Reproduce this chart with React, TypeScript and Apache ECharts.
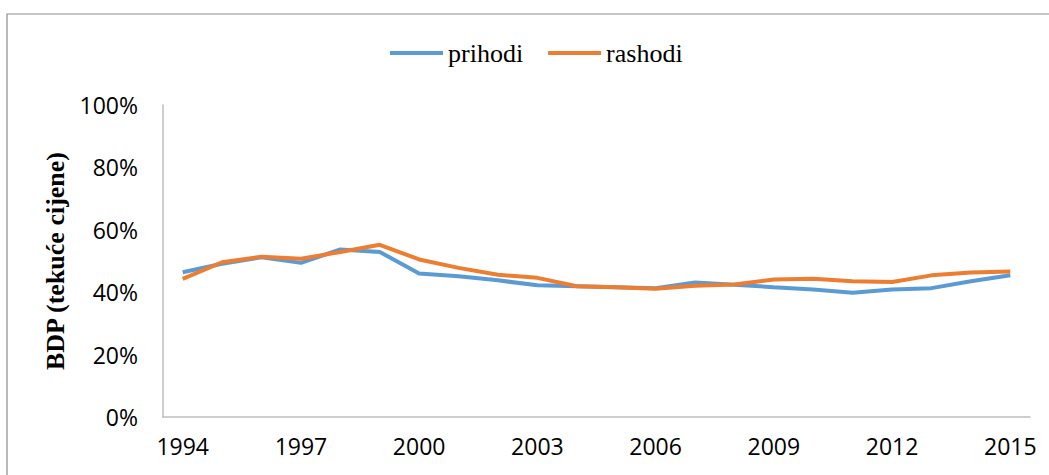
import React, { useEffect, useRef } from "react";
import * as echarts from "echarts";

const years = ["1994","1995","1996","1997","1998","1999","2000","2001","2002","2003","2004","2005","2006","2007","2008","2009","2010","2011","2012","2013","2014","2015"];
const prihodi = [46.4, 49.1, 51.2, 49.4, 53.7, 52.9, 46.0, 45.1, 43.8, 42.2, 41.9, 41.6, 41.3, 43.1, 42.4, 41.6, 40.9, 39.8, 40.9, 41.3, 43.5, 45.4];
const rashodi = [44.3, 49.6, 51.4, 50.7, 52.9, 55.2, 50.5, 47.8, 45.6, 44.6, 41.9, 41.6, 41.1, 42.1, 42.5, 44.1, 44.3, 43.5, 43.3, 45.4, 46.3, 46.6];
const yTicks = [0, 20, 40, 60, 80, 100];

export default function App() {
  const ref = useRef<HTMLDivElement>(null);
  useEffect(() => {
    if (!ref.current) return;
    const chart = echarts.init(ref.current, null, { renderer: "svg" });
    const labelFont = "'Open Sans', 'Liberation Sans', sans-serif";
    chart.setOption({
      animation: false,
      backgroundColor: "#ffffff",
      graphic: [
        {
          type: "rect",
          shape: { x: 7, y: 14, width: 1200, height: 600 },
          style: { fill: "none", stroke: "#8c8c8c", lineWidth: 1.2 },
          silent: true,
        },
      ],
      legend: {
        left: 385,
        top: 35,
        icon: "rect",
        itemWidth: 53,
        itemHeight: 4,
        itemGap: 25,
        textStyle: { fontFamily: "'Liberation Serif', serif", fontSize: 26, color: "#000" },
        data: ["prihodi", "rashodi"],
      },
      grid: { left: 163, right: 19, top: 105, bottom: 58 },
      xAxis: {
        type: "category",
        data: years,
        boundaryGap: true,
        axisLine: { lineStyle: { color: "#bfbfbf", width: 1.5 } },
        axisTick: { show: false },
        axisLabel: {
          interval: 2,
          margin: 17,
          fontFamily: labelFont,
          fontSize: 23,
          color: "#000",
        },
      },
      yAxis: {
        type: "value",
        min: 0,
        max: 100,
        interval: 20,
        name: "BDP (tekuće cijene)",
        nameLocation: "middle",
        nameGap: 92,
        nameTextStyle: {
          fontFamily: "'Liberation Serif', serif",
          fontWeight: "bold",
          fontSize: 26,
          color: "#000",
        },
        axisLine: { show: true, lineStyle: { color: "#bfbfbf", width: 1.5 } },
        axisTick: { show: false },
        splitLine: { show: false },
        axisLabel: {
          margin: 25,
          fontFamily: labelFont,
          fontSize: 23,
          color: "#000",
          formatter: (v: number) => (yTicks.includes(v) ? v + "%" : ""),
        },
      },
      series: [
        {
          name: "prihodi",
          type: "line",
          data: prihodi,
          showSymbol: false,
          symbol: "none",
          lineStyle: { color: "#5B9BD5", width: 4 },
          itemStyle: { color: "#5B9BD5" },
        },
        {
          name: "rashodi",
          type: "line",
          data: rashodi,
          showSymbol: false,
          symbol: "none",
          lineStyle: { color: "#ED7D31", width: 4 },
          itemStyle: { color: "#ED7D31" },
        },
      ],
    });
    return () => chart.dispose();
  }, []);
  return (
    <div
      ref={ref}
      style={{ position: "fixed", left: 0, top: 0, width: 1049, height: 475 }}
    />
  );
}
